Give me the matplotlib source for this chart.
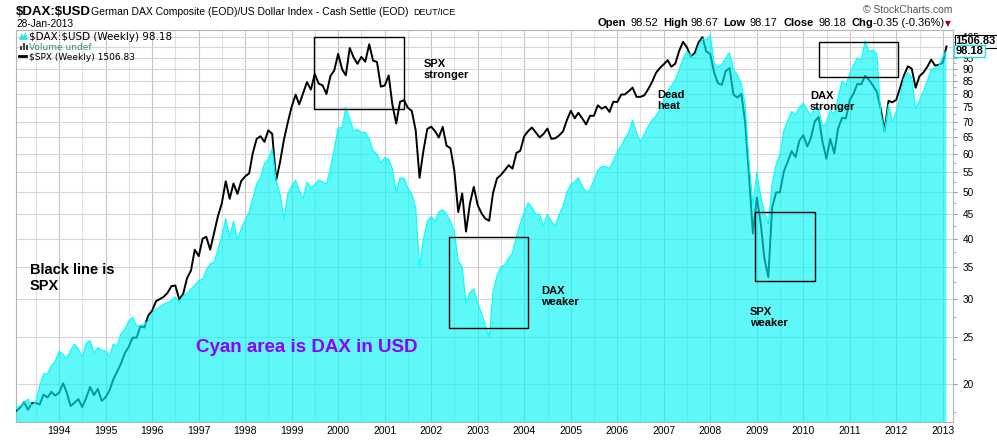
import numpy as np
import pandas as pd
import matplotlib
matplotlib.use('Agg')
import matplotlib.pyplot as plt
import matplotlib.dates as mdates
import matplotlib.transforms as mtransforms
from matplotlib.ticker import FixedLocator, NullFormatter, NullLocator
from matplotlib.patches import Rectangle, Polygon
from matplotlib.lines import Line2D

# month-end readings, Jan 1993 .. Dec 2012, then the last weekly bar (28-Jan-2013)
dax_usd = [
    17.9, 18.0, 18.3, 18.6, 18.0, 18.4, 19.8, 21.0, 21.0, 21.8, 22.3, 23.4,   # 1993
    23.0, 22.6, 23.5, 24.2, 23.6, 22.7, 24.3, 24.6, 23.2, 23.8, 23.5, 23.4,   # 1994
    22.8, 24.2, 24.0, 25.4, 26.0, 27.0, 27.5, 26.4, 26.4, 26.6, 27.0, 28.0,   # 1995
    28.6, 28.9, 29.3, 29.5, 29.8, 30.3, 29.5, 30.5, 30.8, 31.5, 32.0, 32.8,   # 1996
    33.0, 34.4, 35.5, 35.8, 38.0, 40.5, 44.0, 40.5, 43.5, 40.0, 42.0, 43.8,   # 1997
    45.5, 48.5, 52.0, 53.5, 57.3, 58.5, 61.5, 53.0, 49.5, 44.0, 49.5, 51.5,   # 1998
    53.0, 50.5, 48.5, 52.5, 51.0, 51.8, 53.0, 52.5, 52.0, 56.0, 61.5, 68.0,   # 1999
    68.0, 75.0, 71.0, 67.0, 67.5, 66.5, 66.5, 64.5, 61.0, 60.0, 57.5, 59.0,   # 2000
    58.5, 56.0, 50.0, 53.5, 53.5, 51.0, 49.5, 46.5, 35.0, 40.0, 43.5, 44.5,   # 2001
    43.5, 45.5, 46.0, 45.0, 43.5, 41.5, 36.0, 35.0, 29.5, 31.0, 31.5, 29.5,   # 2002
    28.0, 26.5, 25.0, 31.0, 33.5, 35.0, 35.3, 36.5, 37.5, 40.5, 43.0, 45.5,   # 2003
    47.5, 46.5, 45.0, 45.0, 42.5, 45.0, 43.5, 42.5, 45.0, 46.7, 50.0, 51.8,   # 2004
    52.5, 53.6, 51.5, 50.0, 50.5, 53.0, 55.5, 56.5, 56.5, 56.0, 58.0, 60.5,   # 2005
    62.5, 64.5, 66.5, 70.5, 66.5, 63.5, 66.0, 68.5, 70.5, 72.0, 74.0, 78.0,   # 2006
    81.0, 83.0, 85.5, 89.5, 94.5, 98.0, 96.0, 95.0, 100.5, 104.0, 103.5, 105.8,  # 2007
    92.5, 91.0, 92.0, 95.0, 97.3, 90.0, 87.5, 84.0, 76.0, 58.0, 47.0, 55.0,   # 2008
    49.0, 45.5, 43.0, 52.0, 57.0, 60.0, 67.0, 70.5, 73.5, 72.5, 75.0, 76.5,   # 2009
    74.0, 72.0, 75.0, 74.5, 68.5, 69.5, 74.0, 72.5, 78.5, 85.0, 83.5, 88.0,   # 2010
    92.0, 95.0, 94.0, 103.0, 98.0, 98.5, 97.0, 73.0, 67.0, 76.0, 70.0, 73.5,  # 2011
    79.0, 86.0, 88.5, 86.5, 74.5, 77.5, 81.0, 85.0, 90.0, 90.5, 91.5, 95.5,   # 2012
    98.18,
]

spx = [
    438.8, 443.4, 451.7, 440.2, 450.2, 450.5, 448.1, 463.6, 458.9, 467.8, 461.8, 466.5,
    481.6, 467.1, 445.8, 450.9, 456.5, 444.3, 458.3, 475.5, 462.7, 472.4, 453.7, 459.3,
    470.4, 487.4, 500.7, 514.7, 533.4, 544.8, 562.1, 561.9, 584.4, 581.5, 605.4, 615.9,
    636.0, 640.4, 645.5, 654.2, 669.1, 670.6, 639.9, 652.0, 687.3, 705.3, 757.0, 740.7,
    786.2, 790.8, 757.1, 801.3, 848.3, 885.1, 954.3, 899.5, 947.3, 914.6, 955.4, 970.4,
    980.3, 1049.3, 1101.8, 1111.8, 1090.8, 1133.8, 1120.7, 957.3, 1017.0, 1098.7, 1163.6, 1229.2,
    1279.6, 1238.3, 1286.4, 1335.2, 1301.8, 1372.7, 1328.7, 1320.4, 1282.7, 1362.9, 1388.9, 1469.3,
    1394.5, 1366.4, 1498.6, 1452.4, 1420.6, 1454.6, 1430.8, 1517.7, 1436.5, 1429.4, 1315.0, 1320.3,
    1366.0, 1239.9, 1160.3, 1249.5, 1255.8, 1224.4, 1211.2, 1133.6, 966.0, 1059.8, 1139.5, 1148.1,
    1130.2, 1106.7, 1147.4, 1076.9, 1067.1, 989.8, 860.0, 916.1, 805.0, 885.8, 936.3, 879.8,
    855.7, 841.2, 835.0, 916.9, 963.6, 974.5, 990.3, 1008.0, 996.0, 1050.7, 1058.2, 1111.9,
    1131.1, 1144.9, 1126.2, 1107.3, 1120.7, 1140.8, 1101.7, 1104.2, 1114.6, 1130.2, 1173.8, 1211.9,
    1181.3, 1203.6, 1180.6, 1156.9, 1191.5, 1191.3, 1234.2, 1220.3, 1228.8, 1207.0, 1249.5, 1248.3,
    1280.1, 1280.7, 1294.8, 1310.6, 1270.1, 1270.2, 1276.7, 1303.8, 1335.9, 1377.9, 1400.6, 1418.3,
    1438.2, 1406.8, 1420.9, 1482.4, 1530.6, 1503.4, 1455.3, 1474.0, 1526.8, 1555.0, 1481.1, 1468.4,
    1378.6, 1330.6, 1322.7, 1385.6, 1400.4, 1280.0, 1267.4, 1282.8, 1166.4, 968.8, 800.0, 903.3,
    825.9, 735.1, 690.0, 872.8, 919.1, 919.3, 987.5, 1020.6, 1057.1, 1036.2, 1095.6, 1115.1,
    1073.9, 1104.5, 1169.4, 1186.7, 1089.4, 1030.7, 1101.6, 1049.3, 1141.2, 1183.3, 1180.6, 1257.6,
    1286.1, 1327.2, 1325.8, 1363.6, 1345.2, 1320.6, 1292.3, 1218.9, 1131.4, 1253.3, 1247.0, 1257.6,
    1312.4, 1365.7, 1408.5, 1397.9, 1310.3, 1362.2, 1379.3, 1406.6, 1440.7, 1412.2, 1416.2, 1426.2,
    1506.83,
]

month_ends = pd.date_range('1993-02-01', periods=240, freq='MS') - pd.Timedelta(days=1)
dates = list(month_ends.to_pydatetime()) + [pd.Timestamp('2013-01-28').to_pydatetime()]

y_ticks = list(range(20, 106, 5))

# highlight boxes: start, end, low, high (DAX:USD scale)
boxes = [
    ('1999-06-26', '2001-06-02', 74.3, 104.8),
    ('2002-05-21', '2004-02-01', 26.1, 40.4),
    ('2008-12-18', '2010-04-04', 32.7, 45.4),
    ('2010-05-06', '2012-01-15', 86.5, 102.3),
]
notes = [
    ('SPX\nstronger', '2001-11-03', 94.5),
    ('Dead\nheat', '2006-11-12', 81.5),
    ('DAX\nstronger', '2010-02-21', 81.1),
    ('DAX\nweaker', '2004-05-11', 31.9),
    ('SPX\nweaker', '2008-11-07', 28.9),
]

W, H = 997, 442
fig = plt.figure(figsize=(W / 100, H / 100), dpi=100)
plt.rcParams['font.family'] = ['Liberation Sans', 'DejaVu Sans']


def fx(px):
    return px / W


def fy(py):
    return 1 - py / H


ax = fig.add_axes([fx(16), fy(421.7), fx(952.7) - fx(16), fy(30) - fy(421.7)])
ylo, yhi = 16.70, 108.5
ax.set_yscale('log')
ax.set_ylim(ylo, yhi)
ax.set_xlim(mdates.datestr2num('1993-01-26'), mdates.datestr2num('2013-03-18'))

# SPX overlay (under the cyan area)
ax_spx = ax.twinx()
ax_spx.set_yscale('log')
ax_spx.set_ylim(422.8, 1593)
ax_spx.yaxis.set_major_locator(NullLocator())
ax_spx.yaxis.set_minor_locator(NullLocator())
ax_spx.plot(dates, spx, color='black', lw=1.4)

# DAX in USD area on top
ax_top = ax.twinx()
ax_top.set_yscale('log')
ax_top.set_ylim(ylo, yhi)
ax_top.yaxis.set_major_locator(NullLocator())
ax_top.yaxis.set_minor_locator(NullLocator())
ax_top.fill_between(dates, dax_usd, 1, color='#00F5F5', alpha=0.63, lw=0)
ax_top.plot(dates, dax_usd, color='#00FFFF', lw=0.8)
for a in (ax_spx, ax_top):
    for s in a.spines.values():
        s.set_visible(False)

# price scale on the right (twinx moved it to the left, put it back)
ax.yaxis.tick_right()
ax.yaxis.set_major_locator(FixedLocator(y_ticks))
ax.yaxis.set_major_formatter(plt.FuncFormatter(lambda v, p: '%d' % v))
ax.yaxis.set_minor_locator(FixedLocator([17.5] + [v + 2.5 for v in y_ticks[:-1]]))
ax.yaxis.set_minor_formatter(NullFormatter())
ax.xaxis.set_major_locator(mdates.YearLocator(1))
ax.xaxis.set_major_formatter(mdates.DateFormatter('%Y'))
ax.xaxis.set_minor_locator(mdates.MonthLocator(bymonth=7))
ax.grid(which='major', axis='x', color='#c6c6c6', lw=0.8)
ax.grid(which='minor', axis='x', color='#e0e0e0', lw=0.8)
ax.grid(which='major', axis='y', color='#d6d6d6', lw=0.8)
ax.tick_params(axis='x', which='both', length=0, pad=3, labelsize=7.5)
ax.tick_params(axis='y', which='major', length=3, pad=4, labelsize=7.2, color='#999999',
               left=False, right=True, labelleft=False, labelright=True)
ax.tick_params(axis='y', which='minor', length=2, color='#999999', left=False, right=True)
for s in ax.spines.values():
    s.set_color('#b4b4b4')

for start, end, lo, hi in boxes:
    x0 = mdates.datestr2num(start)
    x1 = mdates.datestr2num(end)
    ax_top.add_patch(Rectangle((x0, lo), x1 - x0, hi - lo, fill=False,
                               ec='black', lw=1.0, zorder=5))

for txt, d, v in notes:
    ax_top.text(mdates.datestr2num(d), v, txt, fontsize=8, fontweight='bold',
                va='top', ha='left', linespacing=1.15, zorder=6)

ax_top.text(mdates.datestr2num('1993-05-15'), 35.65, 'Black line is\nSPX', fontsize=10.5,
            fontweight='bold', va='top', ha='left', linespacing=1.2, zorder=6)
ax_top.text(mdates.datestr2num('1996-12-09'), 24.77, 'Cyan area is DAX in USD', fontsize=13.5,
            fontweight='bold', color='#8F00FF', va='top', ha='left', zorder=6)

# last value tags on the right
blend_spx = mtransforms.blended_transform_factory(ax_spx.transAxes, ax_spx.transData)
ax_spx.annotate('1506.83', xy=(1, spx[-1]), xycoords=blend_spx, xytext=(3, 5),
                textcoords='offset pixels', va='center', ha='left', fontsize=8,
                fontweight='bold', annotation_clip=False,
                bbox=dict(boxstyle='square,pad=0.1', fc='white', ec='black', lw=0.8))
blend_top = mtransforms.blended_transform_factory(ax_top.transAxes, ax_top.transData)
ax_top.annotate('98.18', xy=(1, dax_usd[-1]), xycoords=blend_top, xytext=(3, 0),
                textcoords='offset pixels', va='center', ha='left', fontsize=8,
                fontweight='bold', annotation_clip=False,
                bbox=dict(boxstyle='square,pad=0.12', fc='white', ec='#22DDE0', lw=1.0))

# legend block inside the chart
fig.add_artist(Polygon([(fx(19), fy(40)), (fx(21.5), fy(33)), (fx(23.5), fy(36.5)),
                        (fx(25.5), fy(32)), (fx(28), fy(40))], closed=True,
                       transform=fig.transFigure, fc='#33E6E6', ec='none'))
for bx, bh in [(19.5, 4), (22.5, 7), (25.5, 5)]:
    fig.add_artist(Rectangle((fx(bx), fy(50)), fx(2), bh / H, transform=fig.transFigure,
                             fc='#444444', ec='none'))
fig.add_artist(Line2D([fx(19), fx(26)], [fy(56), fy(56)], transform=fig.transFigure,
                      color='black', lw=2))
fig.text(fx(29), fy(40), r'\$DAX:\$USD (Weekly) 98.18', family='DejaVu Sans', fontsize=7.5,
         va='baseline')
fig.text(fx(29), fy(50), 'Volume undef', family='DejaVu Sans', fontsize=6.5,
         color='#3A8F6E', va='baseline')
fig.text(fx(29), fy(60), r'\$SPX (Weekly) 1506.83', family='DejaVu Sans', fontsize=6.5,
         va='baseline')

# header
fig.text(fx(16), fy(15), r'\$DAX:\$USD', fontsize=9.5, fontweight='bold', va='baseline')
fig.text(fx(91), fy(15), 'German DAX Composite (EOD)/US Dollar Index - Cash Settle (EOD)',
         fontsize=7.5, va='baseline')
fig.text(fx(413), fy(15), 'DEUT/ICE', fontsize=6.5, va='baseline')
fig.text(fx(16), fy(27), '28-Jan-2013', fontsize=7.3, va='baseline')
fig.text(fx(952), fy(13), '\u00a9 StockCharts.com', fontsize=7.5, color='#555555',
         ha='right', va='baseline')

quote = [('Open', 598, True), ('98.52', 630, False), ('High', 663, True),
         ('98.67', 690, False), ('Low', 723, True), ('98.17', 749, False),
         ('Close', 783, True), ('98.18', 818, False), ('Chg', 851, True),
         ('-0.35 (-0.36%)', 873, False)]
for txt, px, bold in quote:
    fig.text(fx(px), fy(26.5), txt, fontsize=8, fontweight='bold' if bold else 'normal',
             va='baseline')
fig.text(fx(945), fy(26), '\u25bc', family='DejaVu Sans', fontsize=5.5, color='#990022',
         va='baseline')

fig.savefig('out.png', dpi=100)
